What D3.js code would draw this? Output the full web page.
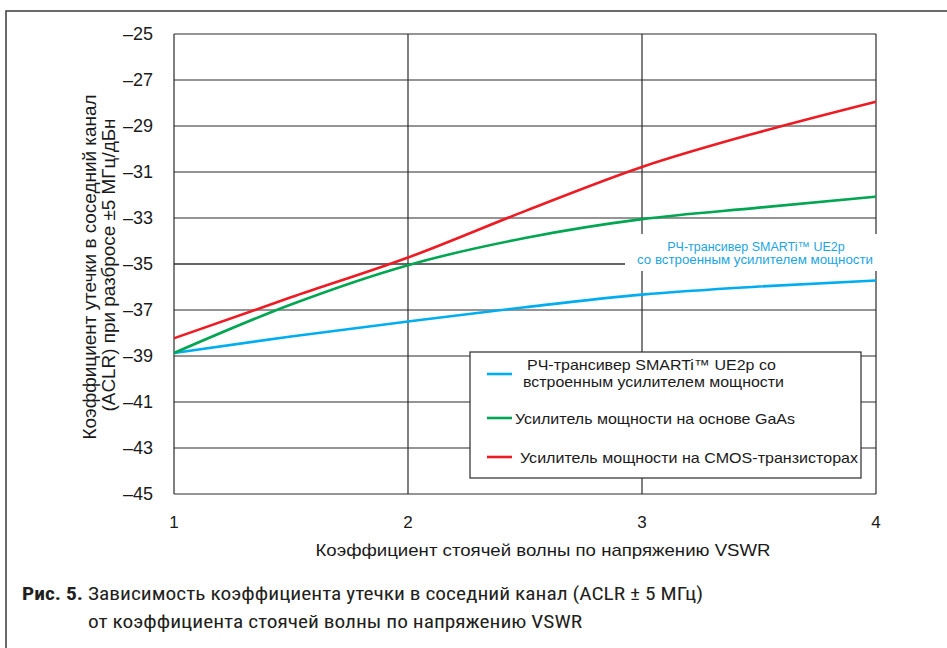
<!DOCTYPE html>
<html><head><meta charset="utf-8">
<script src="https://cdn.jsdelivr.net/npm/d3@7"></script>
<style>body{margin:0;background:#fff}svg{display:block}</style>
</head><body>
<svg id="chart" width="947" height="648"></svg>
<script>
const vswr = [1, 1.5, 2, 2.5, 3, 3.5, 4];
const smartiValues = [-38.87, -38.15, -37.5, -36.88, -36.33, -35.98, -35.72];
const gaasValues = [-38.87, -36.76, -35.05, -33.87, -33.05, -32.55, -32.07];
const cmosValues = [-38.23, -36.45, -34.72, -32.7, -30.78, -29.27, -27.94];
const yTicks = [-25, -27, -29, -31, -33, -35, -37, -39, -41, -43, -45];
const xTicks = [1, 2, 3, 4];
const seriesNames = ["РЧ-трансивер SMARTi™ UE2p со|встроенным усилителем мощности", "Усилитель мощности на основе GaAs", "Усилитель мощности на CMOS-транзисторах"];
const xTitle = "Коэффициент стоячей волны по напряжению VSWR";
const yTitle = ["Коэффициент утечки в соседний канал", "(ACLR) при разбросе ±5 МГц/дБн"];
const annotation = ["РЧ-трансивер SMARTi™ UE2p", "со встроенным усилителем мощности"];
const captionBold = "Рис. 5.";
const captionLines = ["Зависимость коэффициента утечки в соседний канал (ACLR ± 5 МГц)", "от коэффициента стоячей волны по напряжению VSWR"];

(function () {
const svg = d3.select("#chart");
const W = 947, H = 648;
const pL = 174, pR = 876, pT = 34, pB = 494;
const x = d3.scaleLinear().domain([1, 4]).range([pL, pR]);
const y = d3.scaleLinear().domain([-45, -25]).range([pB, pT]);
const font = "'Liberation Sans', Arial, sans-serif";
const grid = "#2b2b2b";

// outer frame
svg.append("path").attr("d", `M6,${H+2} L6,11 L${W+2},11`).attr("fill", "none").attr("stroke", "#3a3a3a").attr("stroke-width", 1.5);

// gridlines
const g = svg.append("g");
g.selectAll("line.h").data(yTicks).join("line")
  .attr("x1", pL).attr("x2", pR).attr("y1", d => y(d)).attr("y2", d => y(d))
  .attr("stroke", d => d === -35 ? "#666" : grid).attr("stroke-width", d => d === -35 ? 1.8 : 1.2);
g.selectAll("line.v").data(xTicks).join("line")
  .attr("y1", pT).attr("y2", pB).attr("x1", d => x(d)).attr("x2", d => x(d))
  .attr("stroke", grid).attr("stroke-width", 1.2);

// y tick labels
svg.append("g").selectAll("text").data(yTicks).join("text")
  .attr("x", 153).attr("y", d => y(d)).attr("dy", "0.36em")
  .attr("text-anchor", "end").attr("font-family", font).attr("font-size", 18).attr("fill", "#1a1a1a")
  .text(d => "\u2013" + Math.abs(d));
// x tick labels
svg.append("g").selectAll("text").data(xTicks).join("text")
  .attr("x", d => x(d)).attr("y", 528)
  .attr("text-anchor", "middle").attr("font-family", font).attr("font-size", 17).attr("fill", "#1a1a1a")
  .text(d => d);

// axis titles
svg.append("text").attr("x", 543).attr("y", 556).attr("text-anchor", "middle")
  .attr("font-family", font).attr("font-size", 17).attr("fill", "#1a1a1a")
  .attr("textLength", 455).attr("lengthAdjust", "spacingAndGlyphs").text(xTitle);
const yt = svg.append("g").attr("transform", "translate(96,267) rotate(-90)");
yt.append("text").attr("x", 0).attr("y", 0).attr("text-anchor", "middle")
  .attr("font-family", font).attr("font-size", 18).attr("fill", "#1a1a1a")
  .attr("textLength", 345).attr("lengthAdjust", "spacingAndGlyphs").text(yTitle[0]);
yt.append("text").attr("x", 2).attr("y", 19).attr("text-anchor", "middle")
  .attr("font-family", font).attr("font-size", 18).attr("fill", "#1a1a1a")
  .attr("textLength", 293).attr("lengthAdjust", "spacingAndGlyphs").text(yTitle[1]);

// curves
const colors = ["#00aeef", "#00a651", "#ed1c24"];
const allSeries = [smartiValues, gaasValues, cmosValues];
const line = d3.line().x((d, i) => x(vswr[i])).y(d => y(d)).curve(d3.curveMonotoneX);
svg.append("g").selectAll("path").data(allSeries).join("path")
  .attr("d", d => line(d)).attr("fill", "none")
  .attr("stroke", (d, i) => colors[i]).attr("stroke-width", 2.6);

// annotation
svg.append("rect").attr("x", 625).attr("y", 234).attr("width", 253).attr("height", 37).attr("fill", "#fff");
svg.append("text").attr("x", 756).attr("y", 251).attr("text-anchor", "middle")
  .attr("font-family", font).attr("font-size", 12.5).attr("fill", "#1ba5e3").text(annotation[0]);
svg.append("text").attr("x", 755).attr("y", 264).attr("text-anchor", "middle")
  .attr("font-family", font).attr("font-size", 12.5).attr("fill", "#1ba5e3")
  .attr("textLength", 236).attr("lengthAdjust", "spacingAndGlyphs").text(annotation[1]);

// legend
const lg = svg.append("g");
lg.append("rect").attr("x", 470).attr("y", 352).attr("width", 391).attr("height", 126)
  .attr("fill", "#fff").attr("stroke", "#2b2b2b").attr("stroke-width", 1.2);
const legY = [374, 418, 457];
lg.selectAll("line").data(colors).join("line")
  .attr("x1", 487).attr("x2", 512).attr("y1", (d, i) => legY[i]).attr("y2", (d, i) => legY[i])
  .attr("stroke", d => d).attr("stroke-width", 2.6);
const legText = [
  {t: seriesNames[0].split("|")[0], x: 527, y: 370, w: 249},
  {t: seriesNames[0].split("|")[1], x: 523, y: 387, w: 261},
  {t: seriesNames[1], x: 515, y: 424, w: 280},
  {t: seriesNames[2], x: 520, y: 463, w: 338}
];
lg.selectAll("text").data(legText).join("text")
  .attr("x", d => d.x).attr("y", d => d.y)
  .attr("font-family", font).attr("font-size", 15).attr("fill", "#1a1a1a")
  .attr("textLength", d => d.w).attr("lengthAdjust", "spacingAndGlyphs").text(d => d.t);

// caption
const cf = "'Liberation Sans Narrow', 'Roboto Condensed', Roboto, sans-serif";
svg.append("text").attr("x", 22).attr("y", 600).attr("font-family", cf).attr("font-weight", "bold")
  .attr("font-size", 18).attr("fill", "#231f20").attr("textLength", 61).attr("lengthAdjust", "spacingAndGlyphs").text(captionBold);
svg.append("text").attr("x", 88).attr("y", 600).attr("font-family", cf)
  .attr("font-size", 18).attr("fill", "#231f20").attr("textLength", 615).attr("lengthAdjust", "spacingAndGlyphs").text(captionLines[0]);
svg.append("text").attr("x", 88).attr("y", 628).attr("font-family", cf)
  .attr("font-size", 18).attr("fill", "#231f20").attr("textLength", 494).attr("lengthAdjust", "spacingAndGlyphs").text(captionLines[1]);
})();
</script>
</body></html>
